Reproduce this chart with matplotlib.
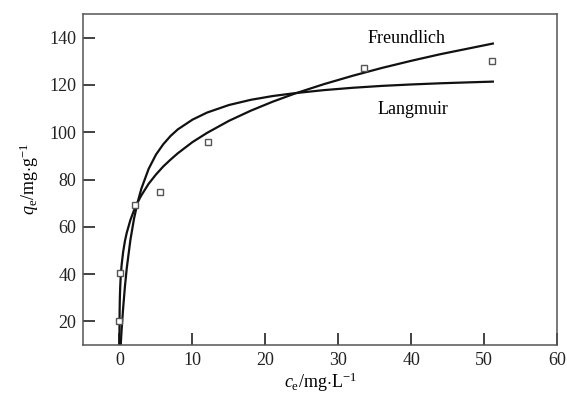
import matplotlib
matplotlib.use('Agg')
import matplotlib.pyplot as plt

# measured points
ce_data = [0.0, 0.1, 2.1, 5.5, 12.1, 33.6, 51.1]
qe_data = [20.0, 40.6, 69.4, 74.6, 96.0, 127.0, 130.0]

# fitted curves
ce_curve = [0, 0.001, 0.005, 0.02, 0.05, 0.1, 0.15, 0.2, 0.3, 0.5, 0.75, 1, 1.5, 2, 2.5, 3, 4, 5, 6,
            7, 8, 10, 12, 15, 18, 21, 24, 28, 32, 36, 40, 44, 48, 51.2]
q_freundlich = [0, 12.4, 17.8, 24.2, 29.6, 34.5, 37.7, 40.3, 44.0, 49.3, 54.0, 57.5, 62.9, 67.0, 70.4,
                73.3, 78.2, 82.1, 85.5, 88.4, 91.1, 95.8, 99.7, 104.8, 109.1, 112.9, 116.3, 120.3,
                123.9, 127.2, 130.2, 133.0, 135.5, 137.5]
q_langmuir = [0, 0.1, 0.3, 1.3, 3.1, 6.1, 8.9, 11.6, 16.7, 25.5, 34.8, 42.5, 54.5, 63.5, 70.5,
              76.1, 84.5, 90.5, 94.9, 98.4, 101.2, 105.3, 108.3, 111.5, 113.7, 115.3, 116.5, 117.8,
              118.8, 119.6, 120.2, 120.7, 121.1, 121.4]

x_ticks = [0, 10, 20, 30, 40, 50, 60]
y_ticks = [20, 40, 60, 80, 100, 120, 140]

plt.rcParams['font.family'] = 'Liberation Serif'
plt.rcParams['mathtext.fontset'] = 'custom'
plt.rcParams['mathtext.rm'] = 'Liberation Serif'
plt.rcParams['mathtext.it'] = 'Liberation Serif:italic'

fig = plt.figure(figsize=(5.67, 3.99), dpi=100)
ax = fig.add_axes([0.1464, 0.1353, 0.836, 0.8296])

ax.plot(ce_curve, q_freundlich, color='#111111', lw=1.6)
ax.plot(ce_curve, q_langmuir, color='#111111', lw=1.6)
ax.plot(ce_data, qe_data, 's', ms=5, mfc='white', mec='#555555', mew=1.0, ls='none')

ax.text(39.3, 139.5, 'Freundlich', fontsize=13, ha='center', va='center')
ax.text(40.3, 109.8, 'Langmuir', fontsize=13, ha='center', va='center')

ax.set_xlim(-5, 60)
ax.set_ylim(10, 150)
ax.set_xticks(x_ticks)
ax.set_yticks(y_ticks)
ax.tick_params(direction='in', length=8.5, width=1.2, labelsize=13, colors='#222222',
               top=False, right=False, pad=5)
for s in ax.spines.values():
    s.set_color('#555555')
    s.set_linewidth(1.1)

ax.set_xlabel(r'$c_\mathrm{e}$/mg$\cdot$L$^{-1}$', fontsize=13, labelpad=1)
ax.set_ylabel(r'$q_\mathrm{e}$/mg$\cdot$g$^{-1}$', fontsize=13, labelpad=6)

fig.savefig('out.png', dpi=100)
